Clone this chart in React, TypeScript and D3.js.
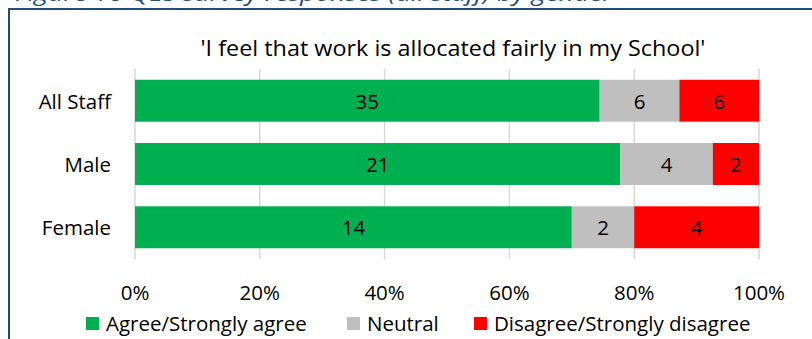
import React from "react";
import * as d3 from "d3";

const categories = ["All Staff", "Male", "Female"];
const seriesNames = ["Agree/Strongly agree", "Neutral", "Disagree/Strongly disagree"];
const agree = [35, 21, 14];
const neutral = [6, 4, 2];
const disagree = [6, 2, 4];
const tickValues = [0, 0.2, 0.4, 0.6, 0.8, 1];
const colors = ["#00B050", "#BFBFBF", "#FF0000"];
const chartTitle = "'I feel that work is allocated fairly in my School'";
const figureCaption = "Figure 16 QES survey responses (all staff) by gender";

const W = 812;
const H = 339;
const FONT = "'Open Sans', 'Noto Sans', sans-serif";
const FS = 20.5;

export default function App() {
  const x = d3.scaleLinear().domain([0, 1]).range([135, 759]);
  const y = d3.scaleBand().domain(categories).range([69, 259]).paddingInner(0.337).paddingOuter(0.17);

  const rows = categories.map((c, i) => {
    const vals = [agree[i], neutral[i], disagree[i]];
    const total = d3.sum(vals);
    let acc = 0;
    return vals.map((v, j) => {
      const x0 = acc / total;
      acc += v;
      return { cat: c, v, j, x0, x1: acc / total };
    });
  });

  const legendItems = [
    { sq: 86, tx: 106 },
    { sq: 347, tx: 367 },
    { sq: 474, tx: 494 },
  ];

  return (
    <svg
      width={W}
      height={H}
      style={{ position: "absolute", left: 0, top: 0, background: "#fff" }}
      fontFamily={FONT}
    >
      <text
        x={15}
        y={1}
        fontSize={21}
        fontStyle="italic"
        fill="#1F4E79"
        textLength={598}
        lengthAdjust="spacingAndGlyphs"
      >
        {figureCaption}
      </text>
      <line x1={8} y1={9} x2={W} y2={9} stroke="#1F4E79" strokeWidth={2} />
      <line x1={9} y1={8} x2={9} y2={H} stroke="#1F4E79" strokeWidth={2} />

      <text
        x={453}
        y={47}
        fontSize={22.5}
        textAnchor="middle"
        dominantBaseline="central"
        fill="#000"
        textLength={505}
        lengthAdjust="spacingAndGlyphs"
      >
        {chartTitle}
      </text>

      {tickValues.map((t) => (
        <line key={t} x1={x(t)} x2={x(t)} y1={69} y2={259} stroke="#D9D9D9" strokeWidth={1.5} />
      ))}

      {rows.map((segs) =>
        segs.map((s) => (
          <g key={s.cat + s.j}>
            <rect
              x={x(s.x0)}
              y={y(s.cat)!}
              width={x(s.x1) - x(s.x0)}
              height={y.bandwidth()}
              fill={colors[s.j]}
            />
            <text
              x={(x(s.x0) + x(s.x1)) / 2}
              y={y(s.cat)! + y.bandwidth() / 2}
              fontSize={FS}
              textAnchor="middle"
              dominantBaseline="central"
              fill="#000"
            >
              {s.v}
            </text>
          </g>
        ))
      )}

      {categories.map((c) => (
        <text
          key={c}
          x={111}
          y={y(c)! + y.bandwidth() / 2}
          fontSize={FS}
          textAnchor="end"
          dominantBaseline="central"
          fill="#000"
        >
          {c}
        </text>
      ))}

      {tickValues.map((t) => (
        <text key={t} x={x(t)} y={292} fontSize={FS} textAnchor="middle" dominantBaseline="central" fill="#000">
          {d3.format(".0%")(t)}
        </text>
      ))}

      {seriesNames.map((n, i) => (
        <g key={n}>
          <rect x={legendItems[i].sq} y={317} width={13} height={13} fill={colors[i]} />
          <text x={legendItems[i].tx} y={323} fontSize={FS} dominantBaseline="central" fill="#000">
            {n}
          </text>
        </g>
      ))}
    </svg>
  );
}
